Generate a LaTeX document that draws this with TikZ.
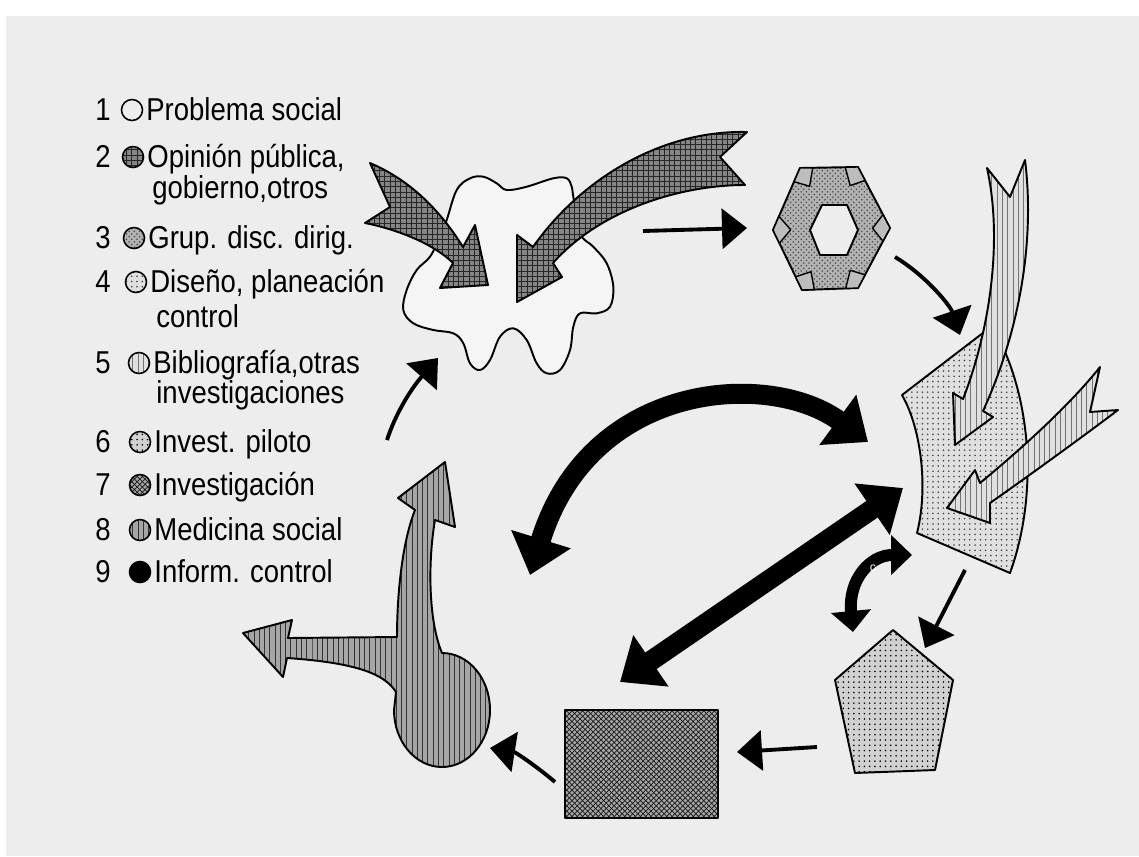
\documentclass[tikz,border=0pt]{standalone}
\usepackage{fontspec}
\setmainfont{Liberation Sans}
\newfontfamily\legfont[FakeStretch=0.87]{Liberation Sans}
\usetikzlibrary{calc,arrows.meta,patterns}

\begin{document}
\begin{tikzpicture}[x=0.02cm,y=-0.02cm,
  outline/.style={draw=black,line width=1.1pt,line join=round},
  vacio/.style={draw=black},
  opinion/.style={outline,preaction={fill=black!48},pattern=grid,pattern color=black!85},
  grupo/.style={outline,preaction={fill=black!30},pattern=crosshatch dots,pattern color=black!70},
  diseno/.style={outline,preaction={fill=black!12},pattern=dots,pattern color=black!75},
  biblio/.style={outline,preaction={fill=black!12},pattern=vertical lines,pattern color=black!55},
  piloto/.style={outline,preaction={fill=black!18},pattern=dots,pattern color=black},
  invest/.style={outline,preaction={fill=black!35},pattern=crosshatch,pattern color=black!90},
  medicina/.style={outline,preaction={fill=black!35},pattern=vertical lines,pattern color=black!80},
  informe/.style={draw=black,fill=black},
  rotulo/.style={font=\legfont\fontsize{18}{20}\selectfont,anchor=base west,inner sep=0pt},
  flecha/.style={line width=2.2pt,-{Triangle[length=0.5cm,width=0.8cm]}},
  bigarrow/.style={line width=0.4cm,{Triangle[length=0.75cm,width=1.2cm]}-{Triangle[length=0.75cm,width=1.2cm]}},
  smallarrow/.style={line width=0.24cm,{Triangle[length=0.42cm,width=0.78cm]}-{Triangle[length=0.42cm,width=0.78cm]}}]
  \useasboundingbox (0,0) rectangle (1139,856);
  \fill[white] (0,0) rectangle (1139,856);
  \fill[black!7] (6,16) rectangle (1139,856);

  % leyenda
  \foreach \i/\y/\cx/\est/\txt in {1/110/132/vacio/Problema social,2/157/133/opinion/{Opinión pública,},
      3/238/134/grupo/Grup. disc. dirig.,4/282/136/diseno/{Diseño, planeación},5/363/139/biblio/{Bibliografía,otras},
      6/442/140/piloto/Invest. piloto,7/485/140/invest/Investigación,8/530/140/medicina/Medicina social,
      9/572/140/informe/Inform. control}
  {
    \node[rotulo,anchor=base] (n\i) at (103,\y+10) {\i};
    \node[circle,minimum size=0.42cm,inner sep=0pt,\est,line width=0.9pt] (c\i) at (\cx,\y) {};
    \node[rotulo] (t\i) at (\cx+14,\y+10) {\txt};
  }
  \node[rotulo] (t2b) at (152,198) {gobierno,otros};
  \node[rotulo] (t4b) at (156,327) {control};
  \node[rotulo] (t5b) at (156,403) {investigaciones};

  % problema social
  \draw[outline,fill=black!4] plot[smooth cycle,tension=0.6] coordinates {
    (446.7,220) (456.7,190) (470,178.3) (483.3,176.7) (496.7,183.3) (506.7,190) (526.7,186.7)
    (553.3,178.3) (566.7,178.3) (571.7,186.7) (573.3,196.7) (580,233.3) (593.3,246.7) (606.7,263.3)
    (613.3,286.7) (610,306.7) (596.7,313.3) (580,313.3) (573.3,326.7) (570,350) (560,370)
    (546.7,373.3) (536.7,363.3) (526.7,340) (513.3,328.3) (500,336.7) (490,360) (480,370)
    (470,363.3) (463.3,343.3) (453.3,333.3) (433.3,330) (413.3,323.3) (403.3,310) (406.7,290)
    (416.7,270) (430,256.7) (440,236.7)};
  % opinion publica
  \draw[opinion] (370,163) -- (390,207) -- (365,223) .. controls (400,230) and (435,245) .. (453,263)
    -- (440,288) -- (488,285) -- (475,225) -- (463,247) .. controls (440,210) and (410,180) .. (370,163) -- cycle;
  \draw[opinion] (747,132) -- (720,157) -- (745,185) .. controls (680,185) and (600,210) .. (553,263)
    -- (562,277) -- (517,302) -- (517,235) -- (533,247) .. controls (580,180) and (660,130) .. (747,132) -- cycle;

  % grupo
  \coordinate (h1) at (773,230); \coordinate (h2) at (800,168); \coordinate (h3) at (858,167);
  \coordinate (h4) at (890,228); \coordinate (h5) at (858,288); \coordinate (h6) at (802,290);
  \coordinate (hc) at (832,229);
  \draw[grupo] (h1) -- (h2) -- (h3) -- (h4) -- (h5) -- (h6) -- cycle;
  \foreach \v/\p/\q in {h1/h6/h2,h2/h1/h3,h3/h2/h4,h4/h3/h5,h5/h4/h6,h6/h5/h1}
    \draw[outline,line width=0.8pt,fill=black!26] (\v) -- ($(\v)!0.22!(\p)$) -- ($(\v)!0.3!(hc)$) -- ($(\v)!0.22!(\q)$) -- cycle;
  \draw[outline,fill=black!7] (810,230) -- (822,205) -- (847,205) -- (858,230) -- (847,255) -- (820,255) -- cycle;

  % diseno
  \draw[diseno] (902,395) -- (992,326) .. controls (1030,390) and (1040,490) .. (1010,573)
    -- (917,533) .. controls (928,490) and (922,430) .. (902,395) -- cycle;
  % bibliografia
  \draw[biblio] (987,168) -- (1010,197) -- (1025,160) .. controls (1035,240) and (1020,330) .. (983,411)
    -- (993,417) -- (955,445) -- (953,393) -- (963,399) .. controls (990,330) and (1003,240) .. (987,168) -- cycle;
  \draw[biblio] (1100,367) -- (1090,412) -- (1118,410) .. controls (1085,435) and (1030,475) .. (990,503)
    -- (990,523) -- (947,508) -- (975,470) -- (980,483) .. controls (1020,450) and (1070,405) .. (1100,367) -- cycle;

  % piloto e investigacion
  \draw[piloto] (893,630) -- (953,680) -- (935,770) -- (855,773) -- (835,680) -- cycle;
  \draw[invest] (565,710) rectangle (718,818);

  % medicina social
  \draw[medicina] (445,462) -- (455,527) -- (435,520) .. controls (428,560) and (428,620) .. (442,653)
    .. controls (468.5,653) and (490,678.5) .. (490,710) .. controls (490,741.5) and (468.5,767) .. (442,767)
    .. controls (415.5,767) and (394,741.5) .. (394,710) -- (396,692)
    .. controls (385,675) and (360,663) .. (287,658) -- (283,677) -- (243,633) -- (292,620) -- (288,638)
    -- (397,637) .. controls (397,590) and (403,540) .. (415,510) -- (398,498) -- cycle;

  % flechas
  \coordinate (blobE) at (643,231); \coordinate (hexW) at (747,228);
  \coordinate (hexSE) at (895,257); \coordinate (diseN) at (960,335);
  \coordinate (diseS) at (965,570); \coordinate (pentN) at (925,648);
  \coordinate (pentW) at (817,747); \coordinate (rectE) at (737,752);
  \coordinate (rectW) at (555,782); \coordinate (mediE) at (490,748);
  \coordinate (mediN) at (387,440); \coordinate (blobS) at (438,358);
  \coordinate (infoW) at (530,575); \coordinate (infoE) at (868,442);
  \coordinate (infoNE) at (903,488); \coordinate (infoSW) at (620,682);
  \coordinate (ciclA) at (853,632); \coordinate (ciclB) at (912,555);
  \draw[flecha] (blobE) -- (hexW);
  \draw[flecha] (hexSE) .. controls (925,275) and (950,305) .. (diseN);
  \draw[flecha] (diseS) -- (pentN);
  \draw[flecha] (pentW) -- (rectE);
  \draw[flecha] (rectW) .. controls (535,765) and (515,752) .. (mediE);
  \draw[flecha] (mediN) .. controls (395,415) and (410,390) .. (blobS);
  \draw[bigarrow] (infoW) .. controls (590,380) and (770,370) .. (infoE);
  \draw[bigarrow] (infoSW) -- (infoNE);
  \draw[smallarrow] (ciclA) .. controls (848,580) and (870,555) .. (ciclB);
  \node[text=white,inner sep=0pt,font=\fontsize{7}{8}\selectfont] (cc) at (873,568) {c};
\end{tikzpicture}
\end{document}
